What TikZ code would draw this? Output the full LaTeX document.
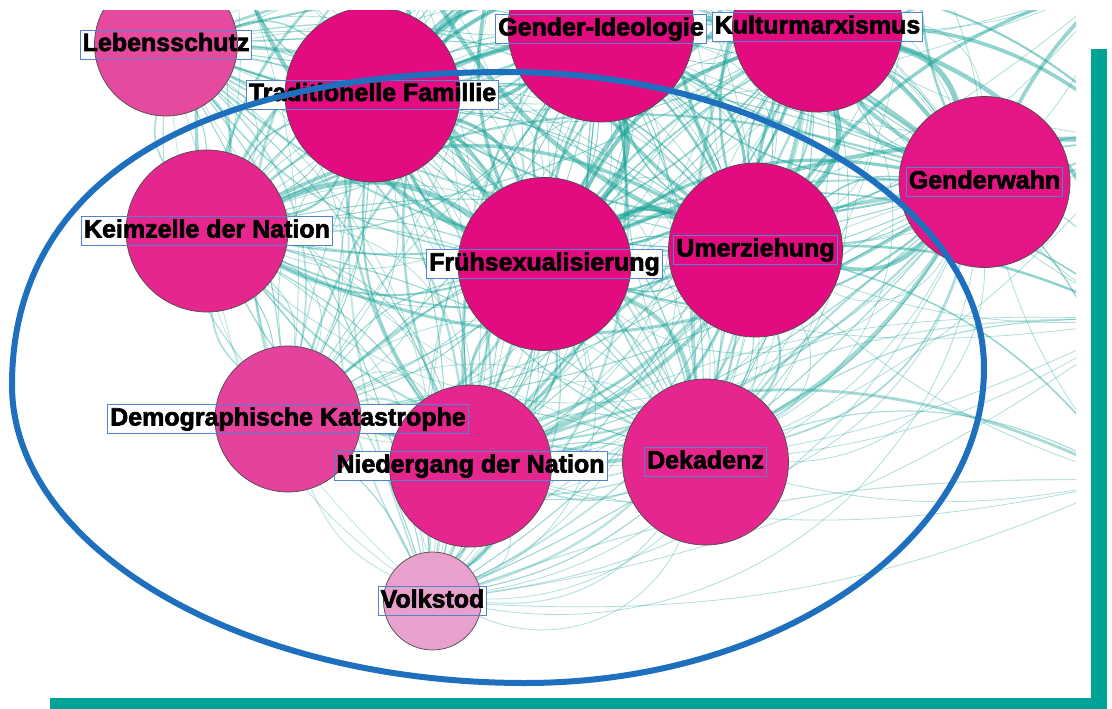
\documentclass[tikz,border=0pt]{standalone}
\usepackage{fontspec}
\setmainfont{Liberation Sans}
\newfontfamily\lblfont{Liberation Sans}[BoldFeatures={FakeBold=2.5}]
\pgfdeclarelayer{edges}
\pgfdeclarelayer{boxes}
\pgfsetlayers{edges,boxes,main}
\definecolor{frameteal}{RGB}{0,163,152}
\definecolor{edgeteal}{RGB}{20,160,150}
\definecolor{ellblue}{RGB}{30,112,190}
\definecolor{boxblue}{RGB}{85,130,205}
\definecolor{magA}{RGB}{226,12,128}
\definecolor{magB}{RGB}{228,22,134}
\definecolor{magC}{RGB}{228,38,142}
\definecolor{magD}{RGB}{228,66,156}
\definecolor{magE}{RGB}{229,74,158}
\definecolor{pinkL}{RGB}{232,160,204}
\newcommand{\netlabel}[2]{%
  \begin{pgfonlayer}{boxes}\node[lbl,draw=none,fill=white,text opacity=0] (f#1) at (#1) {#2};\end{pgfonlayer}%
  \node[lbl] (l#1) at (#1) {#2};}
\begin{document}
\begin{tikzpicture}[x=1pt,y=-1pt,
  gnode/.style={circle,draw=black!70,line width=0.7pt,inner sep=0pt,minimum size=#1},
  lbl/.style={draw=boxblue,line width=0.9pt,inner xsep=2.5pt,inner ysep=2pt,
    text height=19pt,text depth=6pt,font=\fontsize{25pt}{25pt}\lblfont\bfseries}]
\useasboundingbox (0,0) rectangle (1112,709);

% nodes
\begin{scope}
\clip (0,11) rectangle (1076,709);
\node[gnode=143pt,fill=magE] (Leb) at (166,44.5) {};
\node[gnode=175pt,fill=magA] (Tra) at (372.5,94.5) {};
\node[gnode=186pt,fill=magA] (Gen) at (601,29) {};
\node[gnode=170pt,fill=magA] (Kul) at (817.5,27) {};
\node[gnode=171pt,fill=magB] (Gw) at (984.5,182) {};
\node[gnode=162pt,fill=magC] (Kei) at (207,231) {};
\node[gnode=173pt,fill=magA] (Fru) at (544.5,264) {};
\node[gnode=174pt,fill=magA] (Ume) at (755.5,250) {};
\node[gnode=146pt,fill=magD] (Dem) at (288,419) {};
\node[gnode=162pt,fill=magC] (Nie) at (470.5,466) {};
\node[gnode=166pt,fill=magC] (Dek) at (705.5,462) {};
\node[gnode=98pt,fill=pinkL] (Vol) at (432.5,601) {};
\end{scope}

\coordinate (oA) at (230,-60);
\coordinate (oB) at (400,-70);
\coordinate (oJ) at (500,-50);
\coordinate (oC) at (660,-80);
\coordinate (oK) at (760,-40);
\coordinate (oD) at (920,-60);
\coordinate (oE) at (1120,-20);
\coordinate (oF) at (1140,140);
\coordinate (oG) at (1140,320);
\coordinate (oI) at (1130,480);

% edges
\begin{pgfonlayer}{edges}
\begin{scope}
\clip (0,11) rectangle (1076,709);
\pgfmathsetseed{42}
\foreach \a/\sa [count=\i] in {Leb/0.55,Tra/1,Gen/1,Kul/0.95,Gw/0.85,Kei/0.75,Fru/1,Ume/0.95,Dem/0.5,Nie/0.65,Dek/0.6,Vol/0.3}{
  \foreach \b/\sb [count=\j] in {Leb/0.55,Tra/1,Gen/1,Kul/0.95,Gw/0.85,Kei/0.75,Fru/1,Ume/0.95,Dem/0.5,Nie/0.65,Dek/0.6,Vol/0.3}{
    \ifnum\j>\i
      \pgfmathsetmacro\w{0.8+6*\sa*\sb*rnd}
      \pgfmathsetmacro\op{0.2+0.35*\sa*\sb}
      \pgfmathsetmacro\wb{0.6+3.5*\sa*\sb*rnd}
      \draw[edgeteal,line width=\w pt,draw opacity=\op] (\a) to[bend left=28] (\b);
      \draw[edgeteal,line width=\wb pt,draw opacity=\op] (\a) to[bend right=20] (\b);
      \draw[edgeteal,line width=1pt,draw opacity=0.45] (\a) to[bend left=12] (\b);
      \draw[edgeteal,line width=0.8pt,draw opacity=0.35] (\a) to[bend left=45] (\b);
    \fi
  }
}
\foreach \a/\sa/\targets in {Leb/0.55/{oA,oB,oJ,oC},Tra/1/{oA,oB,oJ,oC,oK,oD,oE},Gen/1/{oA,oB,oJ,oC,oK,oD,oE,oF},
  Kul/0.95/{oB,oJ,oC,oK,oD,oE,oF,oG},Gw/0.85/{oJ,oC,oK,oD,oE,oF,oG,oI},Kei/0.75/{oA,oB,oJ,oC},Fru/1/{oA,oB,oJ,oC,oK,oD,oE,oF,oG},
  Ume/0.95/{oB,oJ,oC,oK,oD,oE,oF,oG,oI},Dem/0.5/{oA,oB,oJ},Nie/0.65/{oB,oJ,oC,oK,oG,oI},Dek/0.6/{oC,oK,oD,oF,oG,oI},Vol/0.3/{oB,oC,oG,oI}}{
  \foreach \c in \targets{
    \pgfmathsetmacro\w{0.7+4*\sa*rnd}
    \pgfmathsetmacro\op{0.18+0.3*\sa}
    \pgfmathsetmacro\bd{10+25*rnd}
    \draw[edgeteal,line width=\w pt,draw opacity=\op] (\a.center) to[bend left=\bd] (\c);
    \draw[edgeteal,line width=0.8pt,draw opacity=0.35] (\a.center) to[bend right=14] (\c);
  }
}
\end{scope}
\end{pgfonlayer}

% labels
\netlabel{Leb}{Lebensschutz}
\netlabel{Tra}{Traditionelle Famillie}
\netlabel{Gen}{Gender-Ideologie}
\netlabel{Kul}{Kulturmarxismus}
\netlabel{Gw}{Genderwahn}
\netlabel{Kei}{Keimzelle der Nation}
\netlabel{Fru}{Frühsexualisierung}
\netlabel{Ume}{Umerziehung}
\netlabel{Dem}{Demographische Katastrophe}
\netlabel{Nie}{Niedergang der Nation}
\netlabel{Dek}{Dekadenz}
\netlabel{Vol}{Volkstod}

% ellipse
\draw[ellblue,line width=6pt]
  (12,385) .. controls (12,185) and (190,72) .. (507,72)
  .. controls (765,72) and (984,208) .. (984,368)
  .. controls (984,541) and (777,683) .. (525,683)
  .. controls (243,683) and (12,549) .. (12,385) -- cycle;

% frame
\fill[frameteal] (1091,49) rectangle (1107,709);
\fill[frameteal] (50,698) rectangle (1107,709);
\end{tikzpicture}
\end{document}
